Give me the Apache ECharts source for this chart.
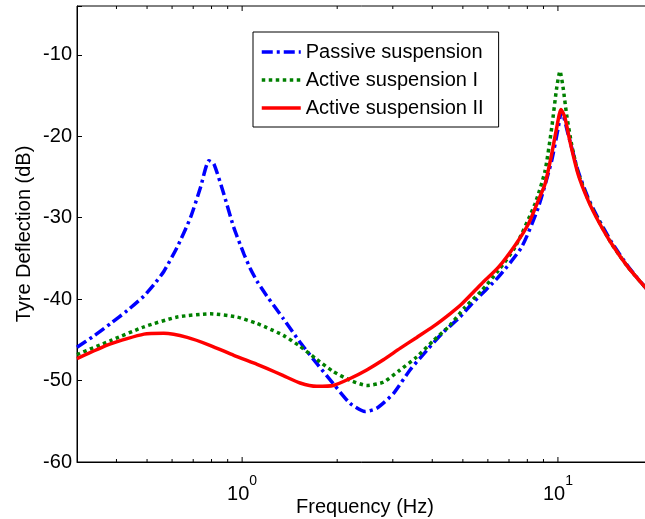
<!DOCTYPE html>
<html>
<head>
<meta charset="utf-8">
<script src="https://cdn.jsdelivr.net/npm/echarts@6/dist/echarts.min.js"></script>
<style>
html,body{margin:0;padding:0;background:#fff;}
#c{width:645px;height:519px;}
</style>
</head>
<body>
<div id="c"></div>
<script>
// ---- data ----
const seriesNames = ['Passive suspension', 'Active suspension I', 'Active suspension II'];

const passiveFreq = [0.300,0.340,0.383,0.433,0.489,0.526,0.565,0.623,0.686,0.738,0.785,0.814,0.875,0.941,1.012,1.060,1.115,1.197,1.351,1.526,1.723,1.945,2.197,2.450,2.669,3.012,3.401,3.841,4.335,4.897,5.333,6.474,7.676,8.664,9.553,10.02,10.27,10.78,11.59,12.47,13.42,14.79,16.69,18.85,20.0];
const passiveDb   = [-45.9,-44.5,-43.0,-41.4,-39.6,-38.2,-36.6,-33.6,-30.0,-26.3,-23.0,-23.4,-27.1,-31.2,-34.4,-36.2,-37.8,-39.6,-42.4,-45.3,-47.9,-50.4,-52.8,-53.8,-53.4,-51.6,-48.7,-46.3,-44.05,-42.2,-40.6,-37.3,-33.6,-28.75,-23.0,-18.96,-16.9,-19.8,-24.3,-27.6,-30.1,-33.0,-36.0,-38.5,-39.6];

const activeIFreq = [0.300,0.383,0.489,0.623,0.794,0.964,1.115,1.197,1.351,1.526,1.723,1.945,2.197,2.481,2.801,3.162,3.572,4.032,4.552,5.078,5.734,6.474,7.311,8.458,9.097,9.553,9.906,10.15,10.39,10.65,11.05,11.59,12.47,13.42,14.79,16.69,18.85,20.0];
const activeIDb   = [-46.8,-45.1,-43.4,-42.2,-41.8,-42.2,-43.0,-43.5,-44.45,-45.8,-47.4,-48.9,-49.96,-50.6,-50.2,-48.7,-47.1,-45.1,-43.2,-41.0,-38.95,-36.5,-33.65,-28.3,-24.3,-19.0,-14.1,-12.0,-14.1,-17.3,-21.0,-24.5,-27.8,-30.3,-33.2,-36.1,-38.5,-39.6];

const activeIIFreq = [0.300,0.383,0.489,0.565,0.670,0.794,0.941,1.115,1.197,1.351,1.526,1.723,1.945,2.197,2.481,2.801,3.162,3.572,4.032,4.552,4.958,5.734,6.474,7.311,8.054,8.664,9.097,9.553,9.906,10.22,10.52,10.91,11.59,12.47,13.42,14.79,16.69,18.85,20.0];
const activeIIDb   = [-47.3,-45.5,-44.3,-44.2,-44.7,-45.7,-46.9,-48.0,-48.5,-49.4,-50.3,-50.7,-50.6,-49.75,-48.7,-47.45,-46.05,-44.7,-43.35,-41.8,-40.6,-38.1,-36.1,-33.4,-30.8,-27.9,-25.9,-22.2,-19.0,-16.7,-17.7,-20.6,-24.7,-27.9,-30.4,-33.2,-36.1,-38.5,-39.6];

const xMin = 0.3, xMax = 20;
const yMin = -60, yMax = -4, yStep = 10;
const xMajorTicks = [1, 10];
const xMinorTicks = [0.4,0.5,0.6,0.7,0.8,0.9,2,3,4,5,6,7,8,9];

// ---- chart ----
const FONT = 'Liberation Sans, Arial, sans-serif';
const chart = echarts.init(document.getElementById('c'), null, {renderer: 'canvas'});

function pairs(fs, ds) { return fs.map((f, i) => [f, ds[i]]); }

const tickItems = xMajorTicks.map(f => [f, 1]).concat(xMinorTicks.map(f => [f, 0]));

chart.setOption({
  animation: false,
  backgroundColor: '#fff',
  grid: {
    left: 77, top: 6, width: 576, height: 456,
    containLabel: false, outerBoundsMode: 'none',
    show: true, borderColor: '#000', borderWidth: 1, backgroundColor: 'transparent'
  },
  legend: {
    data: seriesNames,
    orient: 'vertical',
    left: 253, top: 32,
    itemWidth: 39, itemHeight: 14, itemGap: 8,
    padding: [10, 15, 9, 7],
    borderColor: '#000', borderWidth: 1, borderRadius: 0,
    backgroundColor: '#fff',
    textStyle: {fontSize: 20, color: '#000', fontFamily: FONT},
    lineStyle: {width: 3.5},
    itemStyle: {opacity: 0}
  },
  xAxis: {
    type: 'log', logBase: 10, min: xMin, max: xMax,
    axisLine: {show: true, onZero: false, lineStyle: {color: '#000', width: 1}},
    axisTick: {show: false},
    minorTick: {show: false},
    splitLine: {show: false},
    axisLabel: {
      color: '#000', fontFamily: FONT, margin: 12,
      formatter: function (v) {
        const l = Math.log10(v);
        if (Math.abs(l - Math.round(l)) < 1e-6) return '{b|10}{s|' + Math.round(l) + '}';
        return '';
      },
      rich: {
        b: {fontSize: 20, fontFamily: FONT, color: '#000', lineHeight: 30, verticalAlign: 'bottom'},
        s: {fontSize: 14, fontFamily: FONT, color: '#000', verticalAlign: 'top'}
      }
    },
    name: 'Frequency (Hz)', nameLocation: 'middle', nameGap: 35, nameMoveOverlap: false,
    nameTextStyle: {fontSize: 20, color: '#000', fontFamily: FONT}
  },
  yAxis: {
    type: 'value', min: yMin, max: yMax, interval: yStep,
    axisLine: {show: true, onZero: false, lineStyle: {color: '#000', width: 1}},
    axisTick: {show: true, inside: true, length: 5, lineStyle: {color: '#000'}},
    splitLine: {show: false},
    axisLabel: {
      color: '#000', fontSize: 20, fontFamily: FONT, margin: 5,
      formatter: v => (v % yStep === 0 ? String(v) : '')
    },
    name: 'Tyre Deflection (dB)', nameLocation: 'middle', nameGap: 43, nameMoveOverlap: false,
    nameTextStyle: {fontSize: 20, color: '#000', fontFamily: FONT}
  },
  series: [
    {
      name: seriesNames[0], type: 'line', symbol: 'none', smooth: 0.2,
      data: pairs(passiveFreq, passiveDb),
      lineStyle: {color: '#0000ff', width: 3.5, type: [11, 4, 3, 4], cap: 'butt'},
      itemStyle: {color: '#0000ff'}, z: 2
    },
    {
      name: seriesNames[1], type: 'line', symbol: 'none', smooth: 0.2,
      data: pairs(activeIFreq, activeIDb),
      lineStyle: {color: '#008000', width: 3.5, type: [3.5, 3.5], cap: 'butt'},
      itemStyle: {color: '#008000'}, z: 3
    },
    {
      name: seriesNames[2], type: 'line', symbol: 'none', smooth: 0.2,
      data: pairs(activeIIFreq, activeIIDb),
      lineStyle: {color: '#ff0000', width: 3.5, type: 'solid'},
      itemStyle: {color: '#ff0000'}, z: 4
    },
    {
      type: 'custom', silent: true, clip: false, z: 10,
      data: tickItems,
      encode: {x: 0},
      renderItem: function (params, api) {
        const f = api.value(0);
        const len = api.value(1) ? 5 : 3;
        const b = api.coord([f, yMin]);
        const t = api.coord([f, yMax]);
        return {
          type: 'group',
          children: [
            {type: 'line', shape: {x1: b[0], y1: b[1], x2: b[0], y2: b[1] - len}, style: {stroke: '#000', lineWidth: 1}},
            {type: 'line', shape: {x1: t[0], y1: t[1], x2: t[0], y2: t[1] + len}, style: {stroke: '#000', lineWidth: 1}}
          ]
        };
      }
    }
  ]
});
</script>
</body>
</html>
